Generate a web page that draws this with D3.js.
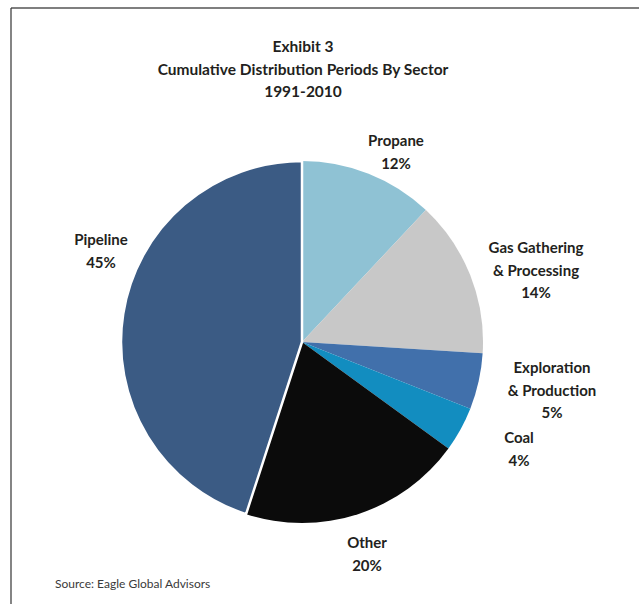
<!DOCTYPE html>
<html>
<head>
<meta charset="utf-8">
<script src="https://cdn.jsdelivr.net/npm/d3@7.9.0/dist/d3.min.js"></script>
<style>
  body { margin: 0; background: #fff; }
  svg text { font-family: Lato, "Open Sans", sans-serif; fill: #231f20; }
</style>
</head>
<body>
<svg id="chart" width="639" height="604"></svg>
<script>
// data (clockwise from 12 o'clock)
const sectors = ['Propane', 'Gas Gathering & Processing', 'Exploration & Production', 'Coal', 'Other', 'Pipeline'];
const shares = [12, 14, 5, 4, 20, 45];
const labelLines = [
  ['Propane', '12%'],
  ['Gas Gathering', '& Processing', '14%'],
  ['Exploration', '& Production', '5%'],
  ['Coal', '4%'],
  ['Other', '20%'],
  ['Pipeline', '45%']
];
const titleLines = ['Exhibit 3', 'Cumulative Distribution Periods By Sector', '1991-2010'];
const sourceNote = 'Source:  Eagle Global Advisors';

const colors = d3.scaleOrdinal()
  .domain(sectors)
  .range(['#8fc2d4', '#c8c8c8', '#4170ab', '#128dc0', '#0b0b0b', '#3b5b84']);

// label anchor spots (centre x, first baseline y) for each sector
const labelSpots = [[396, 146], [536, 253], [552, 373], [519, 443], [367, 548], [101, 245]];

const svg = d3.select('#chart');

// frame lines (top and left only)
svg.append('line').attr('x1', 11).attr('y1', 8).attr('x2', 639).attr('y2', 8)
  .attr('stroke', '#555').attr('stroke-width', 1.5);
svg.append('line').attr('x1', 11).attr('y1', 8).attr('x2', 11).attr('y2', 604)
  .attr('stroke', '#333').attr('stroke-width', 1.2);

// title
svg.append('g').selectAll('text')
  .data(titleLines)
  .join('text')
  .attr('x', 303)
  .attr('y', (d, i) => 52 + i * 22.5)
  .attr('text-anchor', 'middle')
  .attr('font-size', 15.5)
  .attr('font-weight', 'bold')
  .text(d => d);

// pie
const pieData = d3.pie().sort(null).value(d => d)(shares);
const arc = d3.arc().innerRadius(0).outerRadius(181);

const g = svg.append('g').attr('transform', 'translate(302,342)');
g.selectAll('path')
  .data(pieData)
  .join('path')
  .attr('d', arc)
  .attr('fill', (d, i) => colors(sectors[i]))
  .attr('stroke', (d, i) => i === 5 ? '#fff' : 'none')
  .attr('stroke-width', 2.5)
  .attr('stroke-linejoin', 'round');

// labels
labelLines.forEach((lines, i) => {
  const [x, y] = labelSpots[i];
  svg.append('text')
    .attr('text-anchor', 'middle')
    .attr('font-size', 15)
    .attr('font-weight', 'bold')
    .selectAll('tspan')
    .data(lines)
    .join('tspan')
    .attr('x', x)
    .attr('y', (d, j) => y + j * 22.5)
    .text(d => d);
});

// source
svg.append('text')
  .attr('x', 55)
  .attr('y', 588)
  .attr('font-size', 12)
  .style('fill', '#3a3a3a')
  .text(sourceNote);
</script>
</body>
</html>
